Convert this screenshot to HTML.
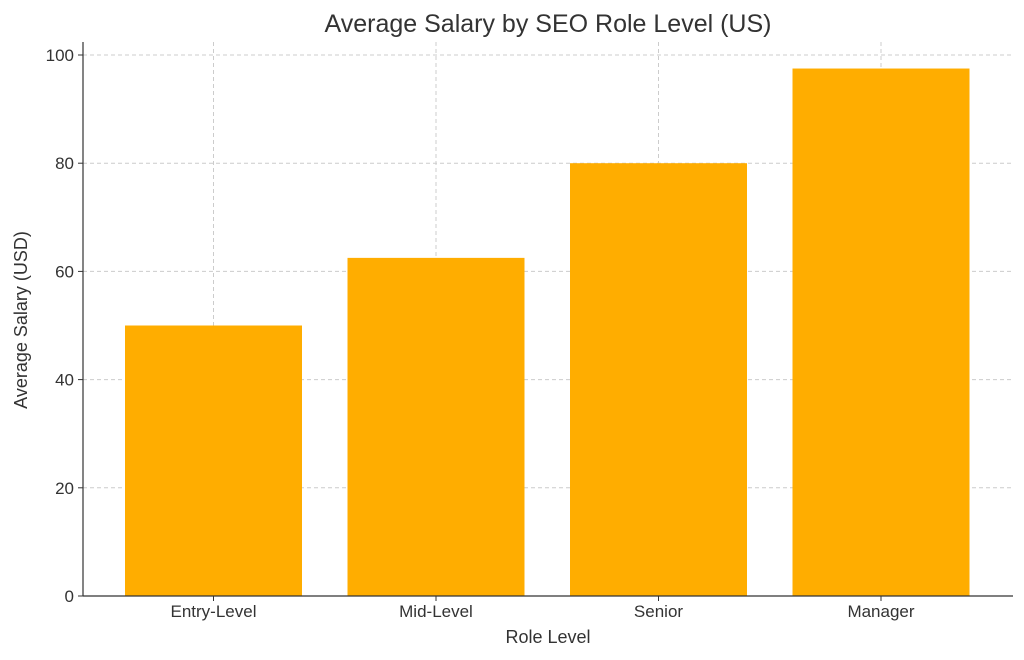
<!DOCTYPE html>
<html><head><meta charset="utf-8"><style>
html,body{margin:0;padding:0;background:#fff;}
svg{display:block;font-family:"Liberation Sans","DejaVu Sans",sans-serif;}
</style></head><body>
<svg width="1024" height="660" viewBox="0 0 1024 660">
<text x="548" y="32" text-anchor="middle" font-size="25" fill="#333">Average Salary by SEO Role Level (US)</text>
<g id="grid"></g>
<g id="bars"></g>
<g id="axes"></g>
<text x="548" y="643" text-anchor="middle" font-size="18" fill="#333">Role Level</text>
<text transform="translate(27,320) rotate(-90)" text-anchor="middle" font-size="18" fill="#333">Average Salary (USD)</text>
</svg>
<script>
const categories = ["Entry-Level","Mid-Level","Senior","Manager"];
const salaries = [50, 62.5, 80, 97.5];
const yTicks = [0,20,40,60,80,100];

const plotL=83, plotR=1013, plotT=42, plotB=596;
const step=222.5, c0=213.5, barW=177;
function xPos(i){return c0+i*step;}
function yPos(v){return plotB-v*5.41;}
const NS="http://www.w3.org/2000/svg";
function mk(tag,attrs,parent){const e=document.createElementNS(NS,tag);for(const k in attrs)e.setAttribute(k,attrs[k]);parent.appendChild(e);return e;}
const gridG=document.getElementById('grid'),barsG=document.getElementById('bars'),axesG=document.getElementById('axes');
yTicks.forEach(t=>{
  const y=yPos(t);
  if(t>0){const g=mk('line',{x1:plotL,x2:plotR,y1:y,y2:y,stroke:'#ccc','stroke-dasharray':'4,3','stroke-width':1},gridG);
  
  }
  const tk=mk('line',{x1:plotL-5,x2:plotL,y1:y,y2:y,stroke:'#333'},axesG);
  
  
  const tx=mk('text',{x:plotL-9,y:y+6,'text-anchor':'end','font-size':17,fill:'#333'},axesG);
  tx.textContent=t;
  
  
});
categories.forEach((c,i)=>{
  const x=xPos(i);
  const g=mk('line',{x1:x,x2:x,y1:plotT,y2:plotB,stroke:'#ccc','stroke-dasharray':'4,3'},gridG);
  
  
  const r=mk('rect',{x:x-barW/2,y:yPos(salaries[i]),width:barW,height:plotB-yPos(salaries[i]),fill:'#FFAD00'},barsG);
  
  
  const tk=mk('line',{x1:x,x2:x,y1:plotB,y2:plotB+5,stroke:'#333'},axesG);
  
  
  const tx=mk('text',{x:x,y:plotB+21,'text-anchor':'middle','font-size':17,fill:'#333'},axesG);
  tx.textContent=c;
  
  
});
const la=mk('line',{x1:plotL,x2:plotL,y1:plotT,y2:plotB,stroke:'#333','stroke-width':1.2},axesG);


const ba=mk('line',{x1:plotL,x2:plotR,y1:plotB,y2:plotB,stroke:'#333','stroke-width':1.2},axesG);


</script>
</body></html>
